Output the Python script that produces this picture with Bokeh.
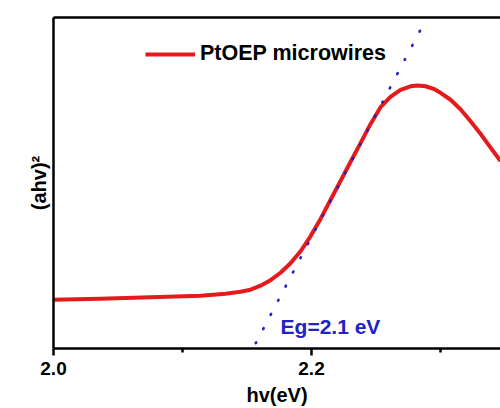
from bokeh.plotting import figure
from bokeh.models import (Range1d, FixedTicker, PrintfTickFormatter, Label, LinearAxis,
                          Legend, LegendItem)
from bokeh.embed import file_html
from bokeh.resources import INLINE

# ---- data ----
energy_ev = [2.0000, 2.0364, 2.0752, 2.1140, 2.1333, 2.1450, 2.1527, 2.1605, 2.1682,
             2.1760, 2.1837, 2.1915, 2.1992, 2.2070, 2.2147, 2.2225, 2.2302, 2.2380,
             2.2457, 2.2535, 2.2612, 2.2690, 2.2767, 2.2822, 2.2884, 2.2946, 2.3000,
             2.3078, 2.3155, 2.3233, 2.3310, 2.3388, 2.3465]
ahv_sq = [0.1476, 0.1506, 0.1551, 0.1596, 0.1657, 0.1717, 0.1777, 0.1898, 0.2063,
          0.2289, 0.2575, 0.2937, 0.3389, 0.3916, 0.4488, 0.5060, 0.5633, 0.6205,
          0.6777, 0.7289, 0.7605, 0.7816, 0.7922, 0.7946, 0.7922, 0.7846, 0.7726,
          0.7515, 0.7229, 0.6867, 0.6488, 0.6069, 0.5663]
tangent_ev = [2.1546, 2.2895]
tangent_val = [0.0, 1.0]
x_ticks = [2.0, 2.2, 2.4]
x_minor_ticks = [2.1, 2.3]
series_label = "PtOEP microwires"
gap_label = "Eg=2.1 eV"
x_title = "hv(eV)"
y_title = "(ahv)\u00b2"

FONT = "Liberation Sans"
RED = "#e41a1c"
BLUE = "#2222c4"

p = figure(width=500, height=408, output_backend="svg", toolbar_location=None,
           x_range=Range1d(2.0, 2.3465), y_range=Range1d(0.0, 1.0),
           x_axis_location=None, y_axis_location=None,
           min_border_left=53, min_border_right=0, min_border_top=17,
           min_border_bottom=59)
p.outline_line_color = None
p.xgrid.visible = False
p.ygrid.visible = False
p.background_fill_color = "white"
p.border_fill_color = "white"

curve = p.line(energy_ev, ahv_sq, line_color=RED, line_width=4, line_join="round")
p.line(tangent_ev, tangent_val, line_color=BLUE, line_width=2.6,
       line_dash="1 15", line_cap="round", line_dash_offset=10)

# top frame line
top = LinearAxis(ticker=FixedTicker(ticks=[]), axis_line_width=2.5,
                 major_tick_out=0, major_tick_in=0, minor_tick_out=0, minor_tick_in=0,
                 major_label_text_font_size="0px", major_label_standoff=0)
p.add_layout(top, "above")

# x axis
xa = LinearAxis(ticker=FixedTicker(ticks=x_ticks, minor_ticks=x_minor_ticks),
                formatter=PrintfTickFormatter(format="%.1f"))
xa.axis_line_width = 2.5
xa.major_tick_line_width = 2.5
xa.minor_tick_line_width = 2.5
xa.major_tick_in = 0
xa.major_tick_out = 7
xa.minor_tick_in = 0
xa.minor_tick_out = 4
xa.major_label_text_font = FONT
xa.major_label_text_font_style = "bold"
xa.major_label_text_font_size = "19px"
xa.major_label_text_color = "black"
xa.major_label_standoff = 6
xa.axis_label = x_title
xa.axis_label_text_font = FONT
xa.axis_label_text_font_style = "bold"
xa.axis_label_text_font_size = "20px"
xa.axis_label_text_color = "black"
xa.axis_label_standoff = 6
p.add_layout(xa, "below")

# y axis
ya = LinearAxis(ticker=FixedTicker(ticks=[]))
ya.axis_line_width = 2.5
ya.major_tick_in = 0
ya.major_tick_out = 0
ya.minor_tick_in = 0
ya.minor_tick_out = 0
ya.major_label_text_font_size = "0px"
ya.major_label_standoff = 0
ya.axis_label = y_title
ya.axis_label_text_font = FONT
ya.axis_label_text_font_style = "bold"
ya.axis_label_text_font_size = "20px"
ya.axis_label_text_color = "black"
ya.axis_label_standoff = 4
p.add_layout(ya, "left")

legend = Legend(items=[LegendItem(label=series_label, renderers=[curve])],
                location=(92, 282), border_line_color=None, background_fill_alpha=0,
                label_text_font=FONT, label_text_font_style="bold",
                label_text_font_size="21.5px", label_text_color="black",
                glyph_width=50, glyph_height=20, label_standoff=5,
                padding=0, margin=0)
p.add_layout(legend)

p.add_layout(Label(x=2.176, y=0.067, text=gap_label, text_font=FONT,
                   text_font_style="bold", text_font_size="21px",
                   text_color=BLUE, text_baseline="alphabetic"))

open("out.html", "w").write(file_html(p, INLINE))
